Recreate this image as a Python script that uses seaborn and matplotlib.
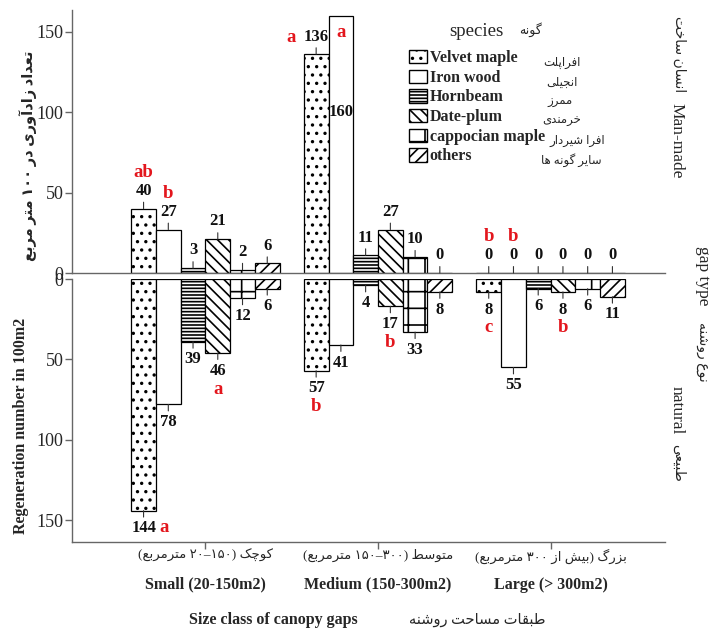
import re

import matplotlib
matplotlib.use("Agg")
import matplotlib.pyplot as plt
import pandas as pd
import seaborn as sns
from matplotlib.patches import Patch

# --- data ---------------------------------------------------------------
SIZES = ["Small (20-150m2)", "Medium (150-300m2)", "Large (> 300m2)"]
SIZES_FA = ["کوچک (۱۵۰–۲۰ مترمربع)", "متوسط (۳۰۰–۱۵۰ مترمربع)", "بزرگ (بیش از ۳۰۰ مترمربع)"]
SPECIES = ["Velvet maple", "Iron wood", "Hornbeam", "Date-plum", "cappocian maple", "others"]
SPECIES_FA = ["افراپلت", "انجیلی", "ممرز", "خرمندی", "افرا شیردار", "سایر گونه ها"]

# rows = size class, columns = species
MAN_MADE = [[40, 27, 3, 21, 2, 6],
            [136, 160, 11, 27, 10, 0],
            [0, 0, 0, 0, 0, 0]]
NATURAL = [[144, 78, 39, 46, 12, 6],
           [57, 41, 4, 17, 33, 8],
           [8, 55, 6, 8, 6, 11]]
MAN_MADE_SIG = [["ab", "b", "", "", "", ""],
                ["a", "a", "", "", "", ""],
                ["b", "b", "", "", "", ""]]
NATURAL_SIG = [["a", "", "", "a", "", ""],
               ["b", "", "", "b", "", ""],
               ["c", "", "", "b", "", ""]]

HATCHES = ["..", "", "-----", "\\\\\\", "+", "///"]

# matplotlib does no arabic shaping -> use presentation forms + visual order
FORMS = {
    "ا": ("\uFE8D", "\uFE8E"), "آ": ("\uFE81", "\uFE82"),
    "ب": ("\uFE8F", "\uFE90", "\uFE91", "\uFE92"), "پ": ("\uFB56", "\uFB57", "\uFB58", "\uFB59"),
    "ت": ("\uFE95", "\uFE96", "\uFE97", "\uFE98"), "ث": ("\uFE99", "\uFE9A", "\uFE9B", "\uFE9C"),
    "ج": ("\uFE9D", "\uFE9E", "\uFE9F", "\uFEA0"), "چ": ("\uFB7A", "\uFB7B", "\uFB7C", "\uFB7D"),
    "ح": ("\uFEA1", "\uFEA2", "\uFEA3", "\uFEA4"), "خ": ("\uFEA5", "\uFEA6", "\uFEA7", "\uFEA8"),
    "د": ("\uFEA9", "\uFEAA"), "ذ": ("\uFEAB", "\uFEAC"), "ر": ("\uFEAD", "\uFEAE"),
    "ز": ("\uFEAF", "\uFEB0"), "ژ": ("\uFB8A", "\uFB8B"),
    "س": ("\uFEB1", "\uFEB2", "\uFEB3", "\uFEB4"), "ش": ("\uFEB5", "\uFEB6", "\uFEB7", "\uFEB8"),
    "ص": ("\uFEB9", "\uFEBA", "\uFEBB", "\uFEBC"), "ض": ("\uFEBD", "\uFEBE", "\uFEBF", "\uFEC0"),
    "ط": ("\uFEC1", "\uFEC2", "\uFEC3", "\uFEC4"), "ظ": ("\uFEC5", "\uFEC6", "\uFEC7", "\uFEC8"),
    "ع": ("\uFEC9", "\uFECA", "\uFECB", "\uFECC"), "غ": ("\uFECD", "\uFECE", "\uFECF", "\uFED0"),
    "ف": ("\uFED1", "\uFED2", "\uFED3", "\uFED4"), "ق": ("\uFED5", "\uFED6", "\uFED7", "\uFED8"),
    "ک": ("\uFB8E", "\uFB8F", "\uFB90", "\uFB91"), "گ": ("\uFB92", "\uFB93", "\uFB94", "\uFB95"),
    "ل": ("\uFEDD", "\uFEDE", "\uFEDF", "\uFEE0"), "م": ("\uFEE1", "\uFEE2", "\uFEE3", "\uFEE4"),
    "ن": ("\uFEE5", "\uFEE6", "\uFEE7", "\uFEE8"), "و": ("\uFEED", "\uFEEE"),
    "ه": ("\uFEE9", "\uFEEA", "\uFEEB", "\uFEEC"), "ی": ("\uFBFC", "\uFBFD", "\uFBFE", "\uFBFF"),
}


def fa(text):
    out = []
    for i, ch in enumerate(text):
        forms = FORMS.get(ch)
        if forms is None:
            out.append(ch)
            continue
        prev = text[i - 1] if i > 0 else ""
        nxt = text[i + 1] if i + 1 < len(text) else ""
        join_prev = prev in FORMS and len(FORMS[prev]) == 4
        join_next = len(forms) == 4 and nxt in FORMS
        if join_prev and join_next:
            out.append(forms[3])
        elif join_prev:
            out.append(forms[1])
        elif join_next:
            out.append(forms[2])
        else:
            out.append(forms[0])
    tokens = re.findall(r"[0-9\u06F0-\u06F9]+|.", "".join(out))
    mirror = {"(": ")", ")": "("}
    return "".join(mirror.get(t, t) for t in reversed(tokens))


def long_df(values):
    rows = []
    for size, vals in zip(SIZES, values):
        for sp, v in zip(SPECIES, vals):
            rows.append({"size": size, "species": sp, "count": v})
    return pd.DataFrame(rows)


sns.set_style("white")
plt.rcParams["font.family"] = ["Liberation Serif", "DejaVu Sans"]
plt.rcParams["hatch.linewidth"] = 1.2

W, H = 711, 629
fig = plt.figure(figsize=(W / 100, H / 100), dpi=100)
ax_top = fig.add_axes([72 / W, 1 - 273 / H, 593 / W, 263 / H])
ax_bot = fig.add_axes([72 / W, 1 - 542 / H, 593 / W, 263 / H])

VAL = dict(fontsize=12, fontweight="bold", color="#111111")
SIG = dict(fontsize=13.5, fontweight="bold", color="#e3161d")
GRAY = "#666666"


def label_bars(ax, values, letters, up):
    sign = 1 if up else -1
    for j, cont in enumerate(ax.containers):
        for i, bar in enumerate(cont):
            v = values[i][j]
            x = bar.get_x() + bar.get_width() / 2
            sig = letters[i][j]
            if up and v > 150:
                # no room above the axis -> label sits inside the bar
                ax.text(x, 100, str(v), ha="center", va="center", **VAL)
                if sig:
                    ax.annotate(sig, (x, v), xytext=(0, -12), textcoords="offset points",
                                ha="center", va="center", **SIG)
                continue
            ax.annotate(str(v), (x, v), xytext=(0, 7 * sign), textcoords="offset points",
                        ha="center", va="bottom" if up else "top",
                        arrowprops=dict(arrowstyle="-", lw=0.8, color="#333333",
                                        shrinkA=0, shrinkB=0), **VAL)
            if not sig:
                continue
            if v > 120:
                dx, dy = (-18, 12) if up else (15, -12)
            else:
                dx, dy = 0, 26 * sign
            ax.annotate(sig, (x, v), xytext=(dx, dy), textcoords="offset points",
                        ha="center", va="center", **SIG)


for ax, values, letters, up in [(ax_top, MAN_MADE, MAN_MADE_SIG, True),
                                (ax_bot, NATURAL, NATURAL_SIG, False)]:
    sns.barplot(data=long_df(values), x="size", y="count", hue="species",
                order=SIZES, hue_order=SPECIES, palette=["white"] * len(SPECIES),
                edgecolor="black", linewidth=0.9, width=0.86, saturation=1,
                errorbar=None, legend=False, ax=ax)
    for cont, hatch in zip(ax.containers, HATCHES):
        for bar in cont:
            bar.set_hatch(hatch)
    ax.set_xlim(-0.773, 2.663)
    ax.set_yticks([0, 50, 100, 150])
    ax.set_xlabel("")
    ax.set_ylabel("")
    ax.set_facecolor("none")
    for side in ["top", "right"]:
        ax.spines[side].set_visible(False)
    for side in ["left", "bottom"]:
        ax.spines[side].set_color(GRAY)
        ax.spines[side].set_linewidth(1.0)
    ax.tick_params(axis="y", length=5, width=1, color=GRAY, labelsize=13, pad=1, left=True)
    label_bars(ax, values, letters, up)

ax_top.set_ylim(0, 163.5)
ax_bot.set_ylim(163.5, 0)
ax_top.tick_params(axis="x", bottom=False, labelbottom=False)
ax_bot.tick_params(axis="x", length=5, width=1, color=GRAY, pad=20, bottom=True)
ax_bot.set_xticks(range(len(SIZES)))
ax_bot.set_xticklabels(SIZES, fontsize=11.5, fontweight="bold")
for i, t in enumerate(SIZES_FA):
    ax_bot.annotate(fa(t), xy=(i, 0), xycoords=("data", "axes fraction"), xytext=(0, -5),
                    textcoords="offset points", ha="center", va="top", fontsize=9.5)

# legend
handles = [Patch(facecolor="white", edgecolor="black", hatch=h, label=s)
           for s, h in zip(SPECIES, HATCHES)]
ax_top.legend(handles=handles, loc="upper left", bbox_to_anchor=(409 / W, 1 - 50 / H),
              bbox_transform=fig.transFigure, frameon=False, borderpad=0, borderaxespad=0,
              handlelength=1.15, handleheight=0.9, handletextpad=0.15, labelspacing=0.22,
              prop=dict(family="Liberation Serif", weight="bold", size=11.5))
fig.text(476 / W, 1 - 32 / H, "species", ha="center", va="center", fontsize=13.5)
fig.text(530 / W, 1 - 30 / H, fa("گونه"), ha="center", va="center", fontsize=9)
fa_x = [562, 562, 560, 562, 577, 571]
for k, t in enumerate(SPECIES_FA):
    fig.text(fa_x[k] / W, 1 - (63 + 19.4 * k) / H, fa(t), ha="center", va="center", fontsize=8.5)

# axis titles
fig.text(28 / W, 1 - 156 / H, fa("تعداد زادآوری در ۱۰۰ متر مربع"), rotation=90,
         ha="center", va="center", fontsize=10.5, fontweight="bold")
fig.text(21 / W, 1 - 426 / H, "Regeneration number in 100m2", rotation=90,
         ha="center", va="center", fontsize=11.5, fontweight="bold")
fig.text(273 / W, 1 - 620 / H, "Size class of canopy gaps", ha="center", va="center",
         fontsize=11.5, fontweight="bold")
fig.text(477 / W, 1 - 620 / H, fa("طبقات مساحت روشنه"), ha="center", va="center", fontsize=10.5)

# gap type labels on the right
for x, y, t, size in [(679, 54, fa("انسان ساخت"), 10), (676, 141, "Man-made", 12.5),
                      (703, 276, "gap type", 12.5), (702, 352, fa("نوع روشنه"), 10),
                      (677, 410, "natural", 12.5), (678, 463, fa("طبیعی"), 10)]:
    fig.text(x / W, 1 - y / H, t, rotation=270, ha="center", va="center", fontsize=size)

fig.savefig("out.png", dpi=100)
